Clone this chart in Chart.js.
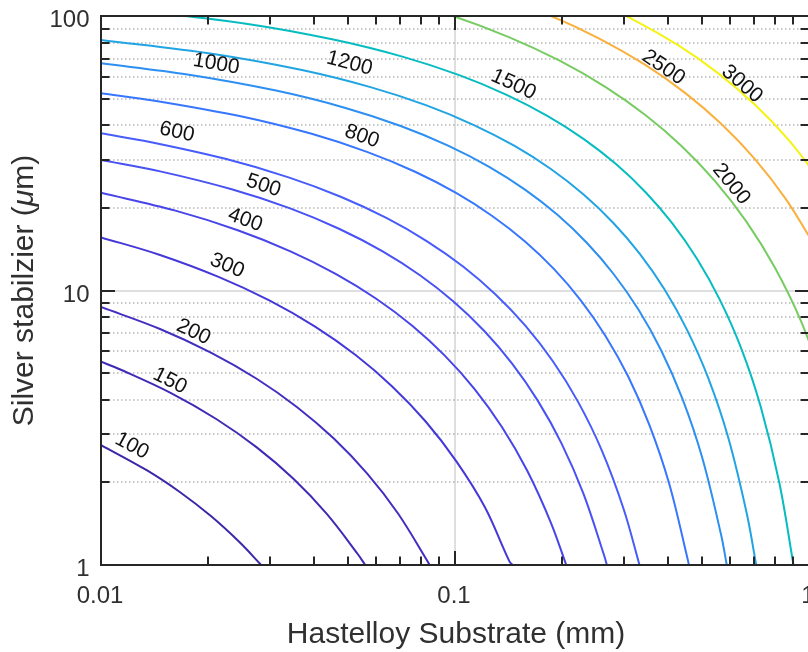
<!DOCTYPE html>
<html><head><meta charset="utf-8">
<script src="https://cdn.jsdelivr.net/npm/chart.js@4.4.0/dist/chart.umd.min.js"></script>
<style>
html,body{margin:0;padding:0;background:#fff;overflow:hidden;width:808px;height:652px;}
#wrap{position:relative;width:830px;height:652px;}
</style></head><body>
<div id="wrap"><canvas id="c"></canvas></div>
<script>
// ---- values (x: substrate mm, y: silver um) ----
const levels = [100,150,200,300,400,500,600,800,1000,1200,1500,2000,2500,3000];
const x100 = [0.01,0.01346,0.01673,0.02044,0.02460,0.02835];
const y100 = [2.736,2.215,1.841,1.507,1.212,1];
const x150 = [0.01,0.01129,0.01577,0.02116,0.02754,0.03496,0.04343,0.05305,0.05577];
const y150 = [5.503,5.167,4.230,3.403,2.682,2.061,1.535,1.099,1];
const x200 = [0.01,0.01468,0.02050,0.02752,0.03582,0.04547,0.05650,0.06903,0.08306,0.08472];
const y200 = [8.709,7.241,5.927,4.770,3.758,2.888,2.151,1.541,1.048,1];
const x300 = [0.01,0.01461,0.02148,0.02998,0.04025,0.05238,0.06646,0.08263,0.1009,0.1215,0.1426,0.1457];
const y300 = [15.62,13.50,11.21,9.181,7.385,5.819,4.472,3.332,2.386,1.623,1.029,1];
const x400 = [0.01,0.01623,0.02434,0.03429,0.04614,0.05992,0.07573,0.09357,0.1136,0.1357,0.1600,0.1865,0.2062];
const y400 = [22.71,19.54,16.58,13.89,11.48,9.335,7.440,5.789,4.373,3.182,2.204,1.428,1];
const x500 = [0.01,0.01470,0.02340,0.03422,0.04718,0.06230,0.07962,0.09917,0.1210,0.1450,0.1713,0.1999,0.2307,0.2640,0.2685];
const y500 = [29.89,27.16,23.37,19.91,16.75,13.91,11.36,9.102,7.123,5.417,3.971,2.775,1.816,1.081,1];
const x600 = [0.01,0.01375,0.02259,0.03388,0.04773,0.06420,0.08339,0.1054,0.1302,0.1580,0.1888,0.2227,0.2596,0.2996,0.3320];
const y600 = [37.38,34.75,30.11,25.83,21.91,18.34,15.11,12.23,9.672,7.447,5.535,3.929,2.621,1.596,1];
const x800 = [0.01,0.01417,0.02518,0.03936,0.05666,0.07714,0.1007,0.1274,0.1574,0.1905,0.2266,0.2659,0.3085,0.3540,0.4030,0.4549,0.4578];
const y800 = [52.29,49.15,42.96,37.22,31.93,27.08,22.67,18.69,15.12,11.96,9.207,6.844,4.859,3.240,1.973,1.041,1];
const x1000 = [0.01,0.01755,0.03121,0.04877,0.07024,0.09559,0.1249,0.1580,0.1951,0.2360,0.2809,0.3297,0.3824,0.4389,0.4994,0.5639,0.5858];
const y1000 = [67.23,61.22,53.49,46.35,39.76,33.72,28.22,23.26,18.83,14.89,11.46,8.520,6.048,4.034,2.457,1.296,1];
const x1200 = [0.01,0.02078,0.03694,0.05770,0.08310,0.1131,0.1478,0.1870,0.2308,0.2793,0.3323,0.3901,0.4523,0.5194,0.5910,0.6671,0.7094];
const y1200 = [81.75,72.70,63.55,55.06,47.24,40.06,33.54,27.64,22.36,17.69,13.62,10.12,7.186,4.793,2.919,1.540,1];
const x1500 = [0.01142,0.02569,0.04568,0.07140,0.1028,0.1399,0.1828,0.2312,0.2855,0.3455,0.4111,0.4825,0.5596,0.6427,0.7309,0.8250,0.9042];
const y1500 = [106.4,93.71,81.89,70.97,60.89,51.64,43.21,35.62,28.82,22.80,17.55,13.05,9.262,6.176,3.763,1.985,1];
const x2000 = [0.06100,0.09620,0.1414,0.1975,0.2651,0.3449,0.4378,0.5441,0.6647,0.8000,0.9506,1.117];
const y2000 = [120.1,101.1,83.96,68.74,55.29,43.57,33.49,24.94,17.86,12.15,7.703,4.409];
const x2500 = [0.1245,0.1831,0.2557,0.3431,0.4465,0.5667,0.7044,0.8604,1.036];
const y2500 = [121.7,101.1,82.78,66.61,52.49,40.34,30.05,21.52,14.64];
const x3000 = [0.2282,0.3186,0.4278,0.5566,0.7064,0.8781,1.073];
const y3000 = [118.6,97.08,78.10,61.56,47.30,35.23,25.23];

// contour label centres (data coordinates), same order as levels
const labelX = [0.01223,0.01566,0.01825,0.02270,0.02555,0.02878,0.01639,0.05462,0.02115,0.05035,0.1463,0.6029,0.3882,0.6469];
const labelY = [2.714,4.682,7.062,12.31,18.06,24.09,37.79,36.42,66.86,67.20,56.30,24.43,64.93,56.54];

const xTickLabels = ['0.01','0.1','1'];
const yTickLabels = ['1','10','100'];
const xTitle = 'Hastelloy Substrate (mm)';
const yTitleParts = ['Silver stabilzier (', '\u03bc', 'm)'];

const lineColors = ['#3e26a8','#402ab5','#422fc1','#4538d8','#4744e9','#4851f3','#475cfa',
  '#3776fe','#2c8ff1','#20a4e3','#06bcc0','#76cc61','#f9b03d','#f5f214'];

const xs = [x100,x150,x200,x300,x400,x500,x600,x800,x1000,x1200,x1500,x2000,x2500,x3000];
const ys = [y100,y150,y200,y300,y400,y500,y600,y800,y1000,y1200,y1500,y2000,y2500,y3000];

const datasets = levels.map((lv, i) => ({
  label: String(lv),
  data: xs[i].map((x, j) => ({x: x, y: ys[i][j]})),
  showLine: true,
  borderColor: lineColors[i],
  borderWidth: 2,
  pointRadius: 0,
  tension: 0.35,
  fill: false
}));

const FONT = '"Liberation Sans", Arial, Helvetica, sans-serif';
const AX = '#262626';

function bez(p0, p1, p2, p3, t) {
  const u = 1 - t;
  return u*u*u*p0 + 3*u*u*t*p1 + 3*u*t*t*p2 + t*t*t*p3;
}

// tangent angle of the drawn curve at the point nearest to (px,py)
function curveAngle(pts, px, py) {
  let best = Infinity, ang = 0;
  for (let j = 0; j < pts.length - 1; j++) {
    const a = pts[j], b = pts[j + 1];
    const c1x = a.cp2x ?? a.x, c1y = a.cp2y ?? a.y, c2x = b.cp1x ?? b.x, c2y = b.cp1y ?? b.y;
    let prevx = a.x, prevy = a.y;
    for (let s = 1; s <= 40; s++) {
      const t = s / 40;
      const qx = bez(a.x, c1x, c2x, b.x, t), qy = bez(a.y, c1y, c2y, b.y, t);
      const mx = (qx + prevx) / 2, my = (qy + prevy) / 2;
      const d = (mx - px) ** 2 + (my - py) ** 2;
      if (d < best) { best = d; ang = Math.atan2(qy - prevy, qx - prevx); }
      prevx = qx; prevy = qy;
    }
  }
  return ang;
}

const matlabAxes = {
  id: 'matlabAxes',
  beforeDatasetsDraw(chart) {
    const ctx = chart.ctx, X = chart.scales.x, Y = chart.scales.y, a = chart.chartArea;
    ctx.save();
    ctx.setLineDash([1.5, 2.5]);
    ctx.strokeStyle = 'rgba(38,38,38,0.33)';
    ctx.lineWidth = 1.5;
    [1, 10].forEach(d => {
      for (let k = 2; k <= 9; k++) {
        const py = Math.round(Y.getPixelForValue(d * k));
        ctx.beginPath(); ctx.moveTo(a.left, py); ctx.lineTo(a.right, py); ctx.stroke();
      }
    });
    ctx.setLineDash([]);
    ctx.strokeStyle = 'rgba(38,38,38,0.15)';
    ctx.lineWidth = 2;
    const gx = Math.round(X.getPixelForValue(0.1));
    ctx.beginPath(); ctx.moveTo(gx, a.top); ctx.lineTo(gx, a.bottom); ctx.stroke();
    const gy = Math.round(Y.getPixelForValue(10));
    ctx.beginPath(); ctx.moveTo(a.left, gy); ctx.lineTo(a.right, gy); ctx.stroke();
    ctx.restore();
  },
  afterDatasetsDraw(chart) {
    const ctx = chart.ctx, X = chart.scales.x, Y = chart.scales.y, a = chart.chartArea;
    ctx.save();
    ctx.strokeStyle = AX; ctx.lineWidth = 2; ctx.setLineDash([]);
    ctx.strokeRect(a.left, a.top, a.right - a.left, a.bottom - a.top);
    const xt = [];
    [0.01, 0.1].forEach(d => { for (let k = 1; k <= 9; k++) xt.push([d * k, k === 1]); });
    xt.push([1, true]);
    xt.forEach(([v, major]) => {
      const px = Math.round(X.getPixelForValue(v));
      const L = major ? 14 : 8.5;
      ctx.beginPath();
      ctx.moveTo(px, a.bottom); ctx.lineTo(px, a.bottom - L);
      ctx.moveTo(px, a.top); ctx.lineTo(px, a.top + L);
      ctx.stroke();
    });
    const yt = [];
    [1, 10].forEach(d => { for (let k = 1; k <= 9; k++) yt.push([d * k, k === 1]); });
    yt.push([100, true]);
    yt.forEach(([v, major]) => {
      const py = Math.round(Y.getPixelForValue(v));
      const L = major ? 14 : 8.5;
      ctx.beginPath();
      ctx.moveTo(a.left, py); ctx.lineTo(a.left + L, py);
      ctx.moveTo(a.right, py); ctx.lineTo(a.right - L, py);
      ctx.stroke();
    });
    // tick labels
    ctx.fillStyle = '#303030';
    ctx.font = '24px ' + FONT;
    ctx.textAlign = 'center'; ctx.textBaseline = 'alphabetic';
    [0.01, 0.1, 1].forEach((v, i) => {
      ctx.fillText(xTickLabels[i], X.getPixelForValue(v) - 1, a.bottom + 38);
    });
    ctx.textAlign = 'right';
    [1, 10, 100].forEach((v, i) => {
      ctx.fillText(yTickLabels[i], a.left - 11.5, Y.getPixelForValue(v) + 11.3);
    });
    // axis titles
    ctx.font = '30px ' + FONT;
    ctx.textAlign = 'center';
    ctx.fillText(xTitle, (a.left + a.right) / 2 + 1, a.bottom + 78);
    ctx.save();
    ctx.translate(33, (a.top + a.bottom) / 2);
    ctx.rotate(-Math.PI / 2);
    const fonts = ['30px ' + FONT, 'italic 30px ' + FONT, '30px ' + FONT];
    let total = 0;
    const widths = yTitleParts.map((s, i) => { ctx.font = fonts[i]; const w = ctx.measureText(s).width; total += w; return w; });
    let cx = -total / 2;
    ctx.textAlign = 'left';
    yTitleParts.forEach((s, i) => { ctx.font = fonts[i]; ctx.fillText(s, cx, 0); cx += widths[i]; });
    ctx.restore();
    // contour labels, aligned with their curve
    ctx.font = '21px ' + FONT;
    ctx.fillStyle = '#111';
    ctx.textAlign = 'center'; ctx.textBaseline = 'middle';
    levels.forEach((lv, i) => {
      const px = X.getPixelForValue(labelX[i]);
      const py = Y.getPixelForValue(labelY[i]);
      const ang = curveAngle(chart.getDatasetMeta(i).data, px, py);
      ctx.save();
      ctx.translate(px, py);
      ctx.rotate(ang);
      ctx.fillText(String(lv), 0, 0);
      ctx.restore();
    });
    ctx.restore();
  }
};

new Chart(document.getElementById('c'), {
  type: 'scatter',
  data: { datasets },
  options: {
    responsive: true, maintainAspectRatio: false, animation: false, devicePixelRatio: 1,
    events: [],
    layout: { padding: { left: 101, top: 16, right: 21, bottom: 87 } },
    elements: { line: { capBezierPoints: false } },
    plugins: { legend: { display: false }, tooltip: { enabled: false } },
    scales: {
      x: { type: 'logarithmic', min: 0.01, max: 1, display: false },
      y: { type: 'logarithmic', min: 1, max: 100, display: false }
    }
  },
  plugins: [matlabAxes]
});
</script>
</body></html>
